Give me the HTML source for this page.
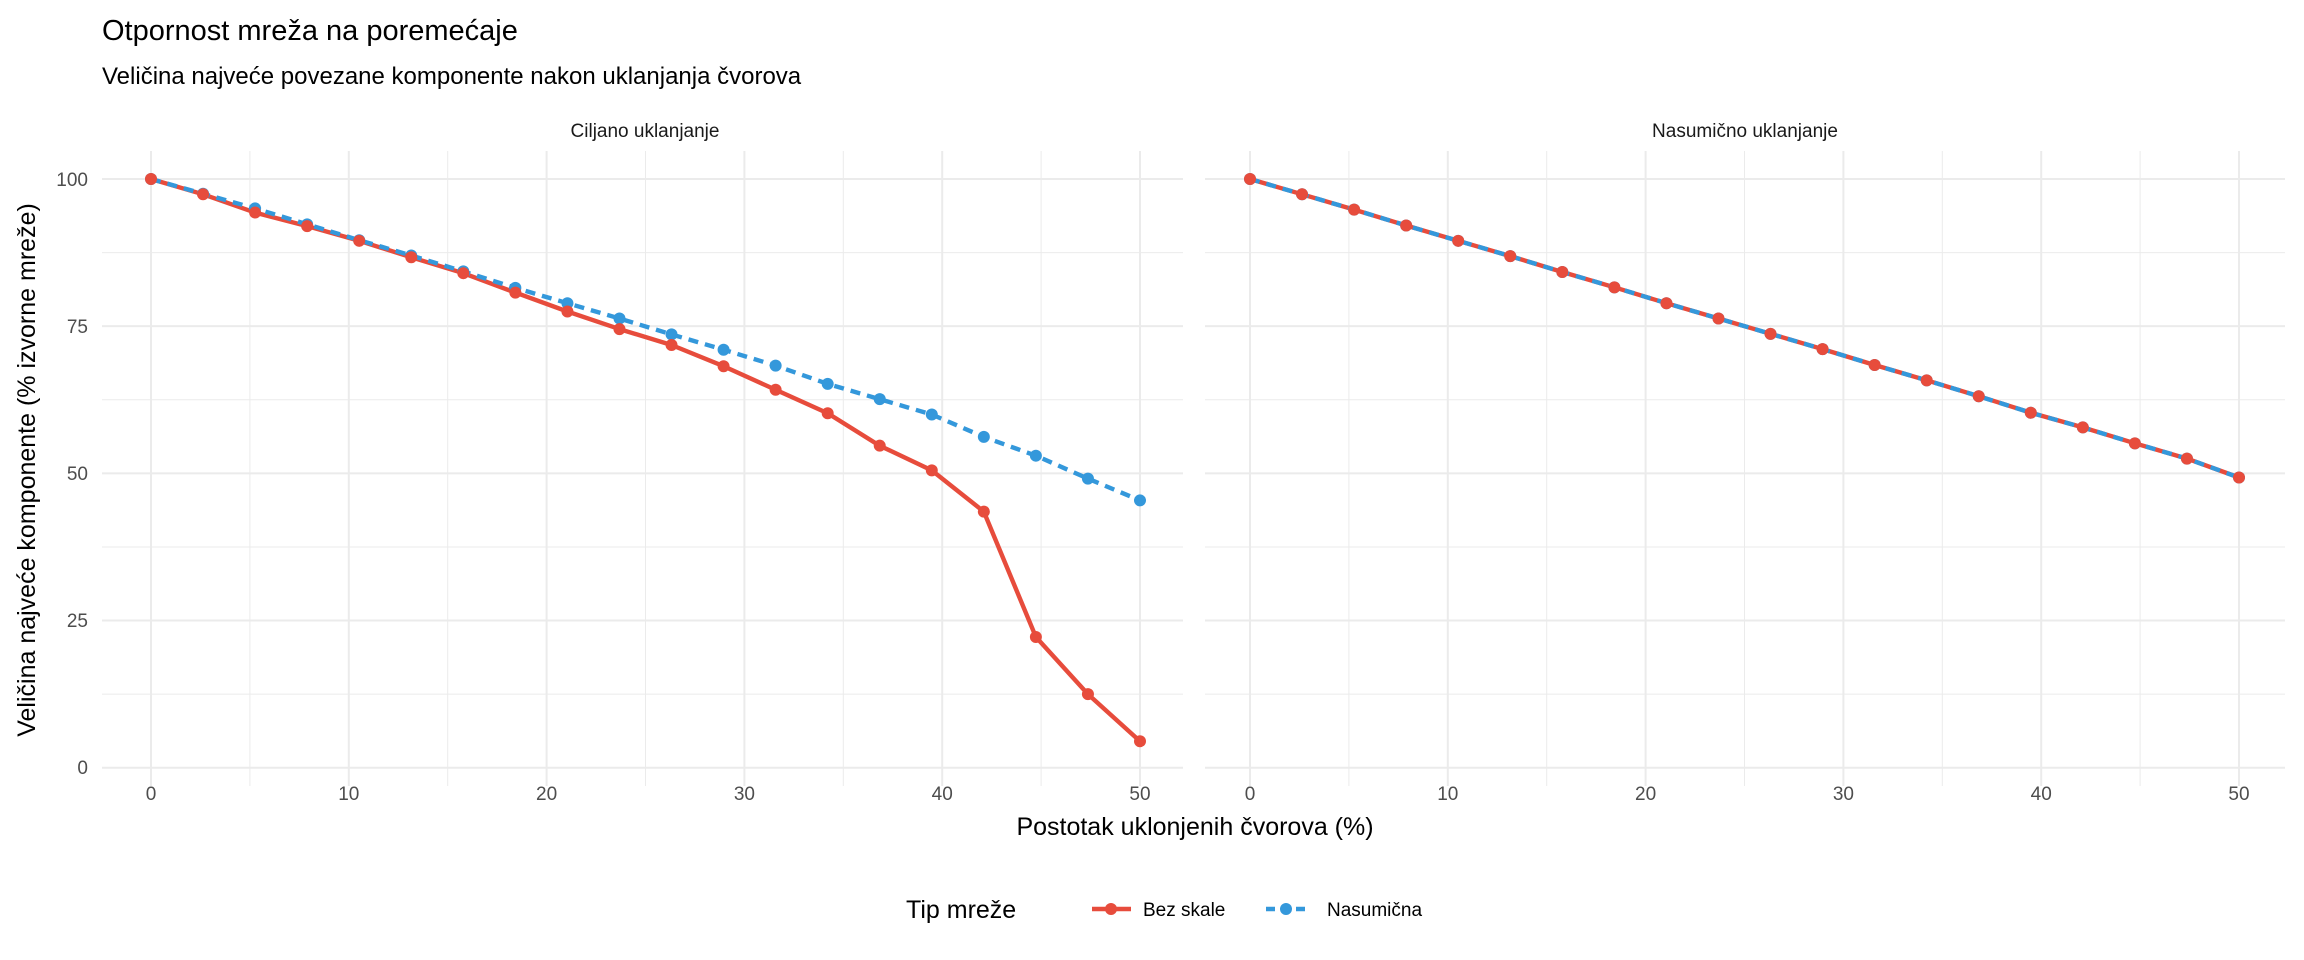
<!DOCTYPE html>
<html><head><meta charset="utf-8"><style>
html,body{margin:0;padding:0;background:#fff}
svg{display:block;font-family:"Liberation Sans",sans-serif}
</style></head><body>
<svg id="s" width="2304" height="960" viewBox="0 0 2304 960" xmlns="http://www.w3.org/2000/svg">
<rect width="2304" height="960" fill="#fff"/>
<g id="grid"></g>
<g id="lines"></g>
<g id="pts"></g>
<text x="102" y="40" font-size="29" fill="#000">Otpornost mreža na poremećaje</text>
<text x="102" y="84" font-size="24" fill="#000">Veličina najveće povezane komponente nakon uklanjanja čvorova</text>
<text x="645" y="137" font-size="19" text-anchor="middle" fill="#1a1a1a">Ciljano uklanjanje</text>
<text x="1745" y="137" font-size="19" text-anchor="middle" fill="#1a1a1a">Nasumično uklanjanje</text>
<g font-size="19" fill="#4d4d4d" text-anchor="end">
<text x="88" y="186">100</text><text x="88" y="333">75</text><text x="88" y="480">50</text><text x="88" y="627">25</text><text x="88" y="774">0</text>
</g>
<g id="xt" font-size="19" fill="#4d4d4d" text-anchor="middle"></g>
<text x="1195" y="835" font-size="25" text-anchor="middle" fill="#000">Postotak uklonjenih čvorova (%)</text>
<text transform="translate(35,470) rotate(-90)" font-size="25" text-anchor="middle" fill="#000">Veličina najveće komponente (% izvorne mreže)</text>
<text x="906" y="918" font-size="25" fill="#000">Tip mreže</text>
<line x1="1092" y1="909" x2="1131" y2="909" stroke="#e74c3c" stroke-width="4.4"/>
<circle cx="1111" cy="909" r="6" fill="#e74c3c"/>
<text x="1143" y="916" font-size="19" fill="#000">Bez skale</text>
<line x1="1266" y1="909" x2="1307" y2="909" stroke="#3498db" stroke-width="4.4" stroke-dasharray="9,6"/>
<circle cx="1286" cy="909" r="6" fill="#3498db"/>
<text x="1327" y="916" font-size="19" fill="#000">Nasumična</text>
</svg>
<script>
(function(){
var NS="http://www.w3.org/2000/svg";
var g=document.getElementById('grid'),L=document.getElementById('lines'),P=document.getElementById('pts'),xt=document.getElementById('xt');
function el(p,t,a){var e=document.createElementNS(NS,t);for(var k in a)e.setAttribute(k,a[k]);p.appendChild(e);return e;}
var panels=[{x0:151,x50:1140,l:102,r:1183},{x0:1250,x50:2239,l:1205,r:2285}];
function Y(v){return 767.7-v*5.887;}
var pTop=151,pBot=786;
panels.forEach(function(p){
 function X(v){return p.x0+(p.x50-p.x0)*v/50;}
 for(var v=0;v<=100;v+=12.5){el(g,'line',{x1:p.l,x2:p.r,y1:Y(v),y2:Y(v),stroke:'#ebebeb','stroke-width':(v%25==0)?2:1});}
 for(var v=0;v<=50;v+=5){el(g,'line',{x1:X(v),x2:X(v),y1:pTop,y2:pBot,stroke:'#ebebeb','stroke-width':(v%10==0)?2:1});}
 for(var v=0;v<=50;v+=10){var t=el(xt,'text',{x:X(v),y:800});t.textContent=v;}
});
var A=[100,97.4,94.3,92,89.5,86.7,84,80.7,77.5,74.5,71.8,68.2,64.2,60.2,54.7,50.5,43.5,22.2,12.5,4.5];
var B=[100,97.5,95,92.3,89.6,87,84.3,81.5,78.9,76.3,73.6,71,68.3,65.2,62.6,60,56.2,53,49.1,45.4];
var R=[100,97.4,94.8,92.1,89.5,86.9,84.2,81.6,78.9,76.3,73.7,71.1,68.4,65.8,63.1,60.3,57.8,55.1,52.5,49.3];
function line(p,vals,col,dash){
 function X(v){return p.x0+(p.x50-p.x0)*v/50;}
 var pts=vals.map(function(v,i){return X(i*50/19).toFixed(1)+','+Y(v).toFixed(1);}).join(' ');
 var a={points:pts,fill:'none',stroke:col,'stroke-width':4.4,'stroke-linejoin':'round'};
 if(dash)a['stroke-dasharray']='10,7';
 el(L,'polyline',a);
}
function dots(p,vals,col){
 function X(v){return p.x0+(p.x50-p.x0)*v/50;}
 vals.forEach(function(v,i){el(P,'circle',{cx:X(i*50/19),cy:Y(v),r:6,fill:col});});
}
line(panels[0],A,'#e74c3c',false);
line(panels[0],B,'#3498db',true);
line(panels[1],R,'#e74c3c',false);
line(panels[1],R,'#3498db',true);
dots(panels[0],B,'#3498db');
dots(panels[0],A,'#e74c3c');
dots(panels[1],R,'#3498db');
dots(panels[1],R,'#e74c3c');
})();
</script>
</body></html>
